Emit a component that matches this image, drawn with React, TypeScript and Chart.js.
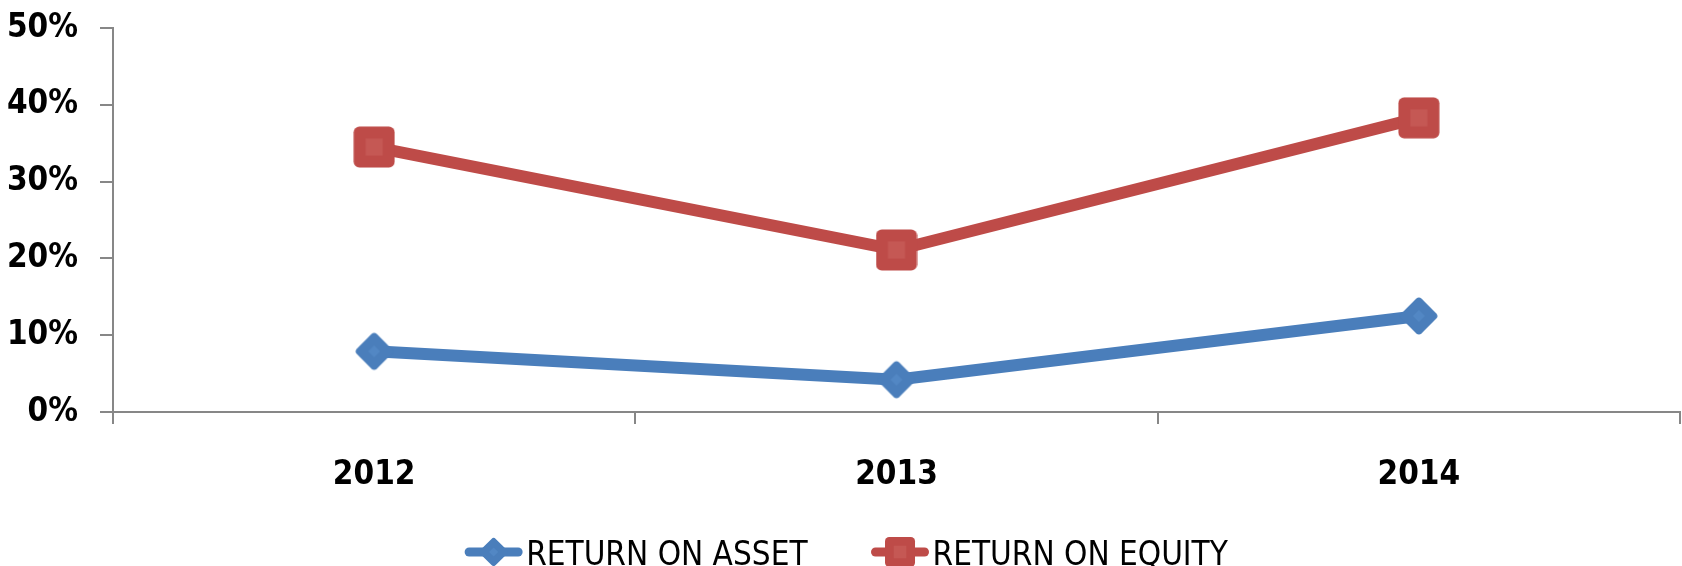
import React, { useEffect, useRef } from "react";
import { Chart, registerables } from "chart.js";

Chart.register(...registerables);

const categories = ["2012", "2013", "2014"];
const returnOnAsset = [7.9, 4.2, 12.5];
const returnOnEquity = [34.5, 21.1, 38.3];
const yTicks = [0, 10, 20, 30, 40, 50];
const seriesNames = ["RETURN ON ASSET", "RETURN ON EQUITY"];

const BLUE = "#4A7EBB";
const RED = "#BE4B48";
const AXIS = "#878787";
const FONT = "'Liberation Sans Narrow', 'DejaVu Sans Condensed', 'DejaVu Sans', sans-serif";

function makeCanvas(w: number, h: number) {
  const c = document.createElement("canvas");
  c.width = w;
  c.height = h;
  return c;
}

function drawDiamond(ctx: CanvasRenderingContext2D, cx: number, cy: number, side: number, color: string, inner: string) {
  ctx.save();
  ctx.translate(cx, cy);
  ctx.rotate(Math.PI / 4);
  ctx.fillStyle = color;
  ctx.beginPath();
  (ctx as any).roundRect(-side / 2, -side / 2, side, side, side * 0.14);
  ctx.fill();
  ctx.fillStyle = inner;
  const s2 = side * 0.3;
  ctx.fillRect(-s2 / 2, -s2 / 2, s2, s2);
  ctx.restore();
}

function drawSquare(ctx: CanvasRenderingContext2D, cx: number, cy: number, side: number, color: string, inner: string) {
  ctx.save();
  ctx.fillStyle = color;
  ctx.beginPath();
  (ctx as any).roundRect(cx - side / 2, cy - side / 2, side, side, side * 0.14);
  ctx.fill();
  ctx.fillStyle = inner;
  const s2 = side * 0.42;
  ctx.fillRect(cx - s2 / 2, cy - s2 / 2, s2, s2);
  ctx.restore();
}

function diamondImage(size: number) {
  const c = makeCanvas(size, size);
  const ctx = c.getContext("2d")!;
  drawDiamond(ctx, size / 2, size / 2, (size - 2) / Math.SQRT2, BLUE, "#5287C4");
  return c;
}

function squareImage(size: number) {
  const c = makeCanvas(size, size);
  const ctx = c.getContext("2d")!;
  drawSquare(ctx, size / 2, size / 2, size - 1, RED, "#C55854");
  return c;
}

function drawLegendMarker(ctx: CanvasRenderingContext2D, x: number, y: number, kind: "diamond" | "square") {
  const w = 59;
  const color = kind === "diamond" ? BLUE : RED;
  ctx.save();
  ctx.strokeStyle = color;
  ctx.lineWidth = 9;
  ctx.lineCap = "round";
  ctx.beginPath();
  ctx.moveTo(x + 5, y);
  ctx.lineTo(x + w - 5, y);
  ctx.stroke();
  ctx.restore();
  if (kind === "diamond") drawDiamond(ctx, x + w / 2, y, 21.5, BLUE, "#5287C4");
  else drawSquare(ctx, x + w / 2, y, 30, RED, "#C55854");
}

const LEGEND_FONT = 33;
const TICK_FONT = 33;

export default function App() {
  const ref = useRef<HTMLCanvasElement | null>(null);

  useEffect(() => {
    document.body.style.margin = "0";
    const canvas = ref.current!;
    const diamond = diamondImage(42);
    const square = squareImage(42);

    const customLegend = {
      id: "customLegend",
      afterDraw(chart: any) {
        const ctx: CanvasRenderingContext2D = chart.ctx;
        ctx.save();
        ctx.font = `normal ${LEGEND_FONT}px ${FONT}`;
        ctx.fillStyle = "#000";
        ctx.textBaseline = "middle";
        ctx.textAlign = "left";
        const markerW = 59;
        const gapText = 3;
        const gapItems = 63;
        const widths = seriesNames.map((t) => ctx.measureText(t).width);
        const total = widths.reduce((a, w) => a + markerW + gapText + w, 0) + gapItems * (seriesNames.length - 1);
        let x = 846 - total / 2;
        const y = 552;
        seriesNames.forEach((name, i) => {
          drawLegendMarker(ctx, x, y, i === 0 ? "diamond" : "square");
          x += markerW + gapText;
          ctx.fillStyle = "#000";
          ctx.fillText(name, x, y + 4);
          x += widths[i] + gapItems;
        });
        ctx.restore();
      },
    };

    const chart = new Chart(canvas, {
      type: "line",
      data: {
        labels: categories,
        datasets: [
          {
            label: seriesNames[0],
            data: returnOnAsset,
            borderColor: BLUE,
            backgroundColor: BLUE,
            borderWidth: 12,
            pointStyle: diamond as any,
            pointRadius: 20,
            pointHoverRadius: 20,
            tension: 0,
          },
          {
            label: seriesNames[1],
            data: returnOnEquity,
            borderColor: RED,
            backgroundColor: RED,
            borderWidth: 12,
            pointStyle: square as any,
            pointRadius: 20,
            pointHoverRadius: 20,
            tension: 0,
          },
        ],
      },
      options: {
        responsive: false,
        animation: false,
        devicePixelRatio: 1,
        layout: { autoPadding: false, padding: { top: 28, right: 2, left: 0, bottom: 54 } },
        plugins: {
          tooltip: { enabled: false },
          legend: { display: false },
        },
        scales: {
          x: {
            type: "category",
            offset: true,
            grid: {
              offset: true,
              drawOnChartArea: false,
              drawTicks: true,
              tickLength: 12,
              color: AXIS,
              lineWidth: 2,
            },
            border: { display: true, color: AXIS, width: 2 },
            ticks: {
              color: "#000",
              padding: 32,
              autoSkip: false,
              font: { family: FONT, size: TICK_FONT, weight: "bold" },
              maxRotation: 0,
            },
            afterFit: (s: any) => {
              s.height = 100;
              s.paddingLeft = 0;
              s.paddingRight = 0;
            },
          },
          y: {
            min: yTicks[0],
            max: yTicks[yTicks.length - 1],
            afterBuildTicks: (s: any) => {
              s.ticks = yTicks.map((v) => ({ value: v }));
            },
            grid: {
              drawOnChartArea: false,
              drawTicks: true,
              tickLength: 13,
              color: AXIS,
              lineWidth: 2,
            },
            border: { display: true, color: AXIS, width: 2 },
            ticks: {
              color: "#000",
              padding: 22,
              font: { family: FONT, size: TICK_FONT, weight: "bold" },
              callback: (v: any) => v + "%",
            },
            afterFit: (s: any) => {
              s.width = 113;
              s.paddingTop = 0;
              s.paddingBottom = 0;
            },
          },
        },
      },
      plugins: [customLegend],
    });
    return () => chart.destroy();
  }, []);

  return (
    <div style={{ width: 1682, height: 566 }}>
      <canvas ref={ref} width={1682} height={566} style={{ display: "block" }} />
    </div>
  );
}
